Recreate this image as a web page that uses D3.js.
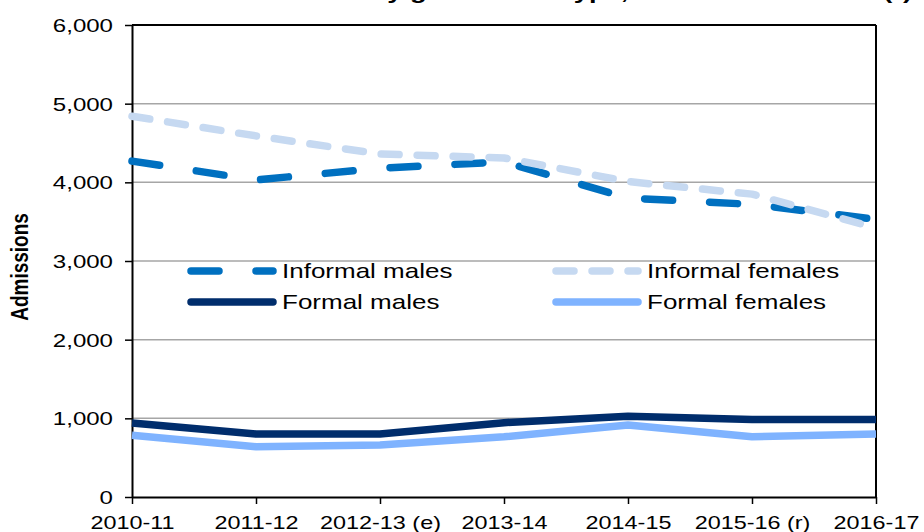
<!DOCTYPE html>
<html>
<head>
<meta charset="utf-8">
<script src="https://cdnjs.cloudflare.com/ajax/libs/d3/7.8.5/d3.min.js"></script>
<style>
  body { margin: 0; background: #fff; }
  svg text { font-family: "Liberation Sans", Arial, sans-serif; fill: #000; }
</style>
</head>
<body>
<svg id="chart"></svg>
<script>
// Chart data
const years = ["2010-11", "2011-12", "2012-13 (e)", "2013-14", "2014-15", "2015-16 (r)", "2016-17"];
const informalMales = [4270, 4030, 4180, 4260, 3800, 3720, 3530];
const informalFemales = [4840, 4590, 4360, 4310, 4010, 3850, 3420];
const formalMales = [940, 800, 800, 945, 1025, 985, 985];
const formalFemales = [785, 640, 660, 765, 915, 765, 800];
const yTicks = [0, 1000, 2000, 3000, 4000, 5000, 6000];

const series = [
    { name: "Informal males", values: informalMales, color: "#0070C0", dash: "28,37" },
    { name: "Informal females", values: informalFemales, color: "#C6D9F1", dash: "18,18" },
    { name: "Formal males", values: formalMales, color: "#002D6C", dash: null },
    { name: "Formal females", values: formalFemales, color: "#7FB3FF", dash: null }
];

const width = 924, height = 532;
const svg = d3.select("#chart").attr("width", width).attr("height", height);

// plot area
const plotLeft = 132, plotRight = 876, plotTop = 25, plotBottom = 497;
const stretch = 1.3; // text in the original is wide

const x = d3.scalePoint().domain(years).range([plotLeft, plotRight]);
const y = d3.scaleLinear().domain([0, 6000]).range([plotBottom, plotTop]);

// Title (cut off at the top edge in the original, only descenders show)
svg.append("text")
    .attr("transform", `translate(912,-1) scale(${stretch},1)`)
    .attr("text-anchor", "end")
    .style("font-size", "21px")
    .style("font-weight", "bold")
    .text("Admissions by gender and type, 2010-11 to 2016-17 (r)");

// gridlines
svg.append("g")
    .selectAll("line")
    .data(yTicks.filter(d => d > 0 && d < 6000))
    .enter().append("line")
    .attr("x1", plotLeft).attr("x2", plotRight)
    .attr("y1", d => y(d)).attr("y2", d => y(d))
    .attr("stroke", "#A6A6A6")
    .attr("stroke-width", 1.5);

// y axis
const yAxis = svg.append("g")
    .attr("transform", `translate(${plotLeft},0)`)
    .call(d3.axisLeft(y).tickValues(yTicks).tickSize(7).tickSizeOuter(0).tickFormat(d3.format(",")));
yAxis.select(".domain").attr("stroke", "#000").attr("stroke-width", 2);
yAxis.selectAll(".tick line").attr("stroke", "#000").attr("stroke-width", 1.5);
yAxis.selectAll(".tick text")
    .attr("x", null).attr("dy", null)
    .attr("transform", `translate(-19,6.5) scale(${stretch},1)`)
    .style("font-size", "18.5px");

// x axis
const xAxis = svg.append("g")
    .attr("transform", `translate(0,${plotBottom})`)
    .call(d3.axisBottom(x).tickSize(7).tickSizeOuter(0));
xAxis.select(".domain").attr("stroke", "#000").attr("stroke-width", 2);
xAxis.selectAll(".tick line").attr("stroke", "#000").attr("stroke-width", 1.5);
xAxis.selectAll(".tick text")
    .attr("y", null).attr("dy", null)
    .attr("transform", `translate(0,32) scale(${stretch},1)`)
    .style("font-size", "18px");

// top and right border
svg.append("line").attr("x1", plotLeft).attr("x2", plotRight).attr("y1", plotTop).attr("y2", plotTop)
    .attr("stroke", "#000").attr("stroke-width", 2);
svg.append("line").attr("x1", plotRight).attr("x2", plotRight).attr("y1", plotTop).attr("y2", plotBottom)
    .attr("stroke", "#000").attr("stroke-width", 2);

// y axis title
svg.append("text")
    .attr("transform", `translate(28,267) scale(${stretch},1) rotate(-90)`)
    .attr("text-anchor", "middle")
    .style("font-size", "19px")
    .style("font-weight", "bold")
    .text("Admissions");

// lines
const line = d3.line()
    .x((d, i) => x(years[i]))
    .y(d => y(d));

svg.append("g")
    .selectAll("path")
    .data(series)
    .enter().append("path")
    .attr("d", d => line(d.values))
    .attr("fill", "none")
    .attr("stroke", d => d.color)
    .attr("stroke-width", 7.5)
    .attr("stroke-linecap", d => d.dash ? "round" : "butt")
    .attr("stroke-linejoin", "round")
    .attr("stroke-dasharray", d => d.dash);

// legend
const legendPos = [
    { x: 191, y: 271 }, { x: 556, y: 271 },
    { x: 191, y: 302 }, { x: 556, y: 302 }
];
const legend = svg.append("g")
    .selectAll("g")
    .data(series)
    .enter().append("g")
    .attr("transform", (d, i) => `translate(${legendPos[i].x},${legendPos[i].y})`);

legend.append("line")
    .attr("x1", 0).attr("x2", 82)
    .attr("stroke", d => d.color)
    .attr("stroke-width", 7.5)
    .attr("stroke-linecap", "round")
    .attr("stroke-dasharray", d => d.dash);

legend.append("text")
    .attr("transform", `translate(91,7) scale(${stretch},1)`)
    .style("font-size", "20px")
    .text(d => d.name);
</script>
</body>
</html>
